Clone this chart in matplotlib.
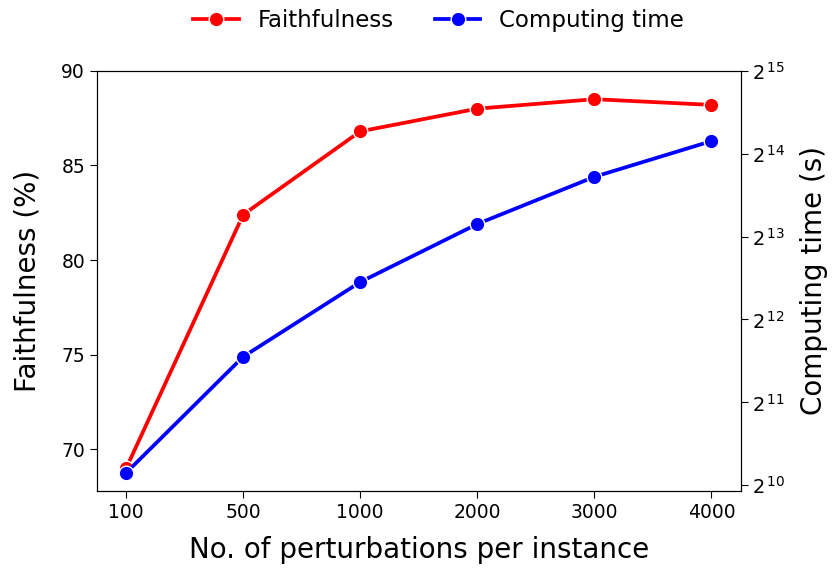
import matplotlib
matplotlib.use("Agg")
import matplotlib.pyplot as plt
from matplotlib.ticker import NullLocator, FixedLocator, FuncFormatter
import numpy as np

# Datos
perturbaciones = ["100", "500", "1000", "2000", "3000", "4000"]
fidelidad = [69.0, 82.4, 86.8, 88.0, 88.5, 88.2]
tiempo = [1136, 3000, 5600, 9100, 13500, 18200]

fig = plt.figure(figsize=(8.35, 5.71), dpi=100)
ax1 = fig.add_axes([0.116, 0.140, 0.771, 0.736])
ax2 = ax1.twinx()

x = range(len(perturbaciones))
linea1 = ax1.plot(x, fidelidad, "-o", color="red", lw=2.7, markersize=10.5,
                  markeredgecolor="white", markeredgewidth=1, label="Faithfulness")
linea2 = ax2.plot(x, tiempo, "-o", color="blue", lw=2.7, markersize=10.5,
                  markeredgecolor="white", markeredgewidth=1, label="Computing time")

ax1.set_xticks(list(x))
ax1.set_xticklabels(perturbaciones)
ax1.set_xlim(-0.25, 5.25)
ax1.set_ylim(67.8, 90)
ax1.set_yticks([70, 75, 80, 85, 90])
ax1.tick_params(labelsize=13.5, length=5)
ax1.set_xlabel("No. of perturbations per instance", fontsize=20, labelpad=10)
ax1.set_ylabel("Faithfulness (%)", fontsize=20, labelpad=14)

# Eje derecho en escala log2
ax2.set_yscale("log", base=2)
ax2.set_ylim(2 ** 9.93, 2 ** 15)
ax2.yaxis.set_major_locator(FixedLocator([2 ** i for i in range(10, 16)]))
ax2.yaxis.set_minor_locator(NullLocator())
ax2.yaxis.set_major_formatter(FuncFormatter(
    lambda v, pos: r"$2^{\,%d}$" % int(round(np.log2(v)))))
ax2.tick_params(labelsize=14, length=5)
ax2.set_ylabel("Computing time (s)", fontsize=20, labelpad=10)

lineas = linea1 + linea2
fig.legend(lineas, [l.get_label() for l in lineas], loc="upper center",
           bbox_to_anchor=(0.525, 1.02), ncol=2, frameon=False, fontsize=16.5,
           columnspacing=1.8)

fig.savefig("out.png", dpi=100)
